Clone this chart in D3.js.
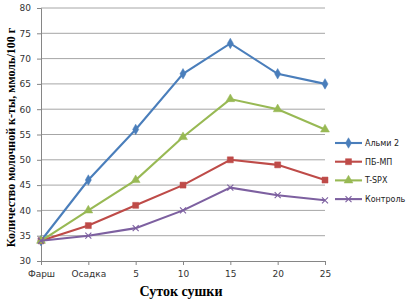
<!DOCTYPE html>
<html>
<head>
<meta charset="utf-8">
<script src="https://cdn.jsdelivr.net/npm/d3@7"></script>
<style>
	body { margin: 0; background: #fff; }
	svg { display: block; }
	.tick text { font-family: "DejaVu Sans", sans-serif; font-size: 9px; fill: #333; }
	.legend text { font-family: "DejaVu Sans", sans-serif; font-size: 8px; fill: #222; }
	.title { font-family: "Liberation Serif", "DejaVu Serif", serif; font-weight: bold; fill: #000; }
</style>
</head>
<body>
<div class="container"></div>
<script>

const categories = ["Фарш", "Осадка", "5", "10", "15", "20", "25"];
const seriesNames = ["Альми 2", "ПБ-МП", "T-SPX", "Контроль"];
const almi = [34, 46, 56, 67, 73, 67, 65];
const pbmp = [34, 37, 41, 45, 50, 49, 46];
const tspx = [34, 40, 46, 54.5, 62, 60, 56];
const control = [34, 35, 36.5, 40, 44.5, 43, 42];
const yTicks = [30, 35, 40, 45, 50, 55, 60, 65, 70, 75, 80];

const colors = ["#4a7ebb", "#be4b48", "#98b954", "#7d60a0"];
const markers = ["diamond", "square", "triangle", "cross"];

const series = seriesNames.map((name, i) => ({
	name: name,
	values: [almi, pbmp, tspx, control][i],
	color: colors[i],
	marker: markers[i]
}));

const outerWidth = 409;
const outerHeight = 303;
const margin = { top: 8, right: 84, bottom: 42, left: 41 };
const width = outerWidth - margin.left - margin.right;
const height = outerHeight - margin.top - margin.bottom;

const root = d3.select(".container").append("svg")
				.attr("width", outerWidth)
				.attr("height", outerHeight);

const svg = root.append("g")
				.attr("transform", `translate(${margin.left},${margin.top})`);

const x = d3.scalePoint()
			.domain(categories)
			.range([0, width]);

const y = d3.scaleLinear()
			.domain([30, 80])
			.range([height, 0]);

// gridlines
svg.append("g")
	.selectAll("line")
		.data(yTicks.slice(1)).enter()
	.append("line")
		.attr("x1", 0)
		.attr("x2", width)
		.attr("y1", (d) => y(d))
		.attr("y2", (d) => y(d))
		.style("stroke", "#a6a6a6")
		.style("stroke-width", 1);

// axes
const yAxis = svg.append("g")
	.call(d3.axisLeft(y).tickValues(yTicks).tickSize(4).tickPadding(6));
const xAxis = svg.append("g")
	.attr("transform", `translate(0,${height})`)
	.call(d3.axisBottom(x).tickSize(4).tickPadding(6));

[yAxis, xAxis].forEach((a) => {
	a.select(".domain").style("stroke", "#868686");
	a.selectAll(".tick line").style("stroke", "#868686");
});

// symbols
function marker(sel, type, color) {
	if (type === "cross") {
		sel.append("path")
			.attr("d", "M-3,-3L3,3M-3,3L3,-3")
			.style("stroke", color)
			.style("stroke-width", 1.1)
			.style("fill", "none");
		return;
	}
	const symbolType = { diamond: d3.symbolDiamond, square: d3.symbolSquare, triangle: d3.symbolTriangle }[type];
	const size = { diamond: 32, square: 36, triangle: 34 }[type];
	sel.append("path")
		.attr("d", d3.symbol().type(symbolType).size(size))
		.style("fill", color)
		.style("stroke", color)
		.style("stroke-width", 0.5);
}

const line = d3.line()
				.x((d, i) => x(categories[i]))
				.y((d) => y(d));

const lines = svg.append("g")
	.selectAll("g")
		.data(series).enter()
	.append("g");

lines.append("path")
	.attr("d", (d) => line(d.values))
	.style("fill", "none")
	.style("stroke", (d) => d.color)
	.style("stroke-width", 2.1);

lines.each(function(s) {
	d3.select(this).selectAll(".pt")
		.data(s.values).enter()
		.append("g")
			.attr("class", "pt")
			.attr("transform", (d, i) => `translate(${x(categories[i])},${y(d)})`)
			.each(function() { marker(d3.select(this), s.marker, s.color); });
});

// legend
const legend = root.append("g")
	.attr("class", "legend")
	.attr("transform", "translate(335,143)")
	.selectAll("g")
		.data(series).enter()
	.append("g")
		.attr("transform", (d, i) => `translate(0,${i * 18.7})`);

legend.append("line")
	.attr("x1", 0)
	.attr("x2", 27)
	.style("stroke", (d) => d.color)
	.style("stroke-width", 2.1);

legend.append("g")
	.attr("transform", "translate(13.5,0)")
	.each(function(d) { marker(d3.select(this), d.marker, d.color); });

legend.append("text")
	.text((d) => d.name)
	.attr("x", 30)
	.attr("dy", "0.35em");

// axis titles
root.append("text")
	.attr("class", "title")
	.attr("x", margin.left + width / 2 - 2)
	.attr("y", 296)
	.attr("text-anchor", "middle")
	.style("font-size", "14px")
	.text("Суток сушки");

root.append("text")
	.attr("class", "title")
	.attr("transform", `translate(15,${margin.top + height / 2 + 3}) rotate(-90)`)
	.attr("text-anchor", "middle")
	.style("font-size", "12px")
	.text("Количество молочной к-ты, ммоль/100 г");

</script>
</body>
</html>
